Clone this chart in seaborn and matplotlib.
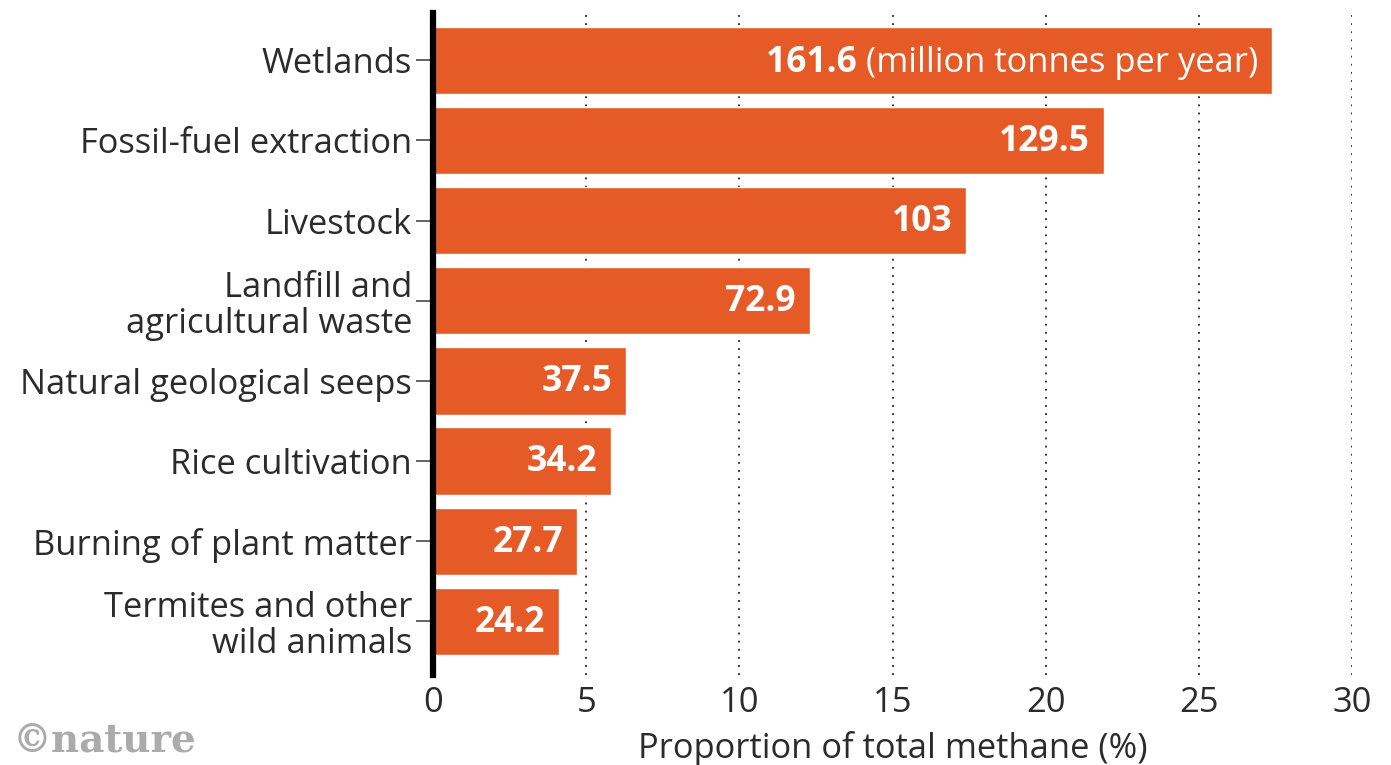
import matplotlib
matplotlib.use("Agg")
import matplotlib.pyplot as plt
import seaborn as sns
import pandas as pd

categories = ["Wetlands", "Fossil-fuel extraction", "Livestock", "Landfill and\nagricultural waste",
              "Natural geological seeps", "Rice cultivation", "Burning of plant matter",
              "Termites and other\nwild animals"]
proportion_pct = [27.4, 21.9, 17.4, 12.3, 6.3, 5.8, 4.7, 4.1]
emissions_mt = ["161.6", "129.5", "103", "72.9", "37.5", "34.2", "27.7", "24.2"]
xticks = [0, 5, 10, 15, 20, 25, 30]

sns.set_style("white")
plt.rcParams['font.family'] = ['Open Sans', 'DejaVu Sans']

BAR = "#E65A28"
TXT = "#2b2b2b"
FS = 24.8
FSV = 25.5

df = pd.DataFrame({"cat": categories, "pct": proportion_pct})

fig = plt.figure(figsize=(13.91, 7.65), dpi=100)
ax = fig.add_axes([0.3113, 0.1176, 0.6607, 0.8654])
sns.barplot(data=df, x="pct", y="cat", color=BAR, width=0.84, saturation=1, ax=ax)

ax.set_xlim(0, 30)
ax.set_ylim(7.67, -0.59)
ax.set_xticks(xticks)
ax.set_xticklabels([str(t) for t in xticks], fontsize=FS, color=TXT)
ax.tick_params(axis='x', bottom=False, length=0, pad=8)
ax.tick_params(axis='y', left=True, length=12, width=1.3, color="#555555", pad=3,
               labelsize=FS, labelcolor=TXT)
for lab in ax.get_yticklabels():
    lab.set_multialignment('right')
    lab.set_linespacing(1.08)

for t in xticks[1:]:
    ax.axvline(t, color="#222222", linestyle=(0, (1, 3.5)), linewidth=1.3, zorder=0)

for s in ["top", "right", "bottom"]:
    ax.spines[s].set_visible(False)
ax.spines["left"].set_linewidth(4.5)
ax.spines["left"].set_color("black")
ax.spines["left"].set_zorder(5)

ax.set_ylabel("")
ax.set_xlabel("Proportion of total methane (%)", fontsize=FS, color=TXT, labelpad=8)

for i, (p, v) in enumerate(zip(proportion_pct, emissions_mt)):
    if i == 0:
        t = ax.annotate("(million tonnes per year)", xy=(p, i), xytext=(-10, -2),
                        textcoords="offset points", ha="right", va="center",
                        color="white", fontsize=FS)
        ax.annotate(v + " ", xy=(0, 0.5), xycoords=t, ha="right", va="center",
                    color="white", fontsize=FSV, fontweight="bold")
    else:
        ax.annotate(v, xy=(p, i), xytext=(-10, -1), textcoords="offset points",
                    ha="right", va="center", color="white", fontsize=FSV, fontweight="bold")

fig.text(0.009, 0.006, "©nature", fontsize=28, fontweight="bold", color="#ababab",
         family="DejaVu Serif", ha="left", va="bottom")

fig.savefig("out.png", dpi=100)
